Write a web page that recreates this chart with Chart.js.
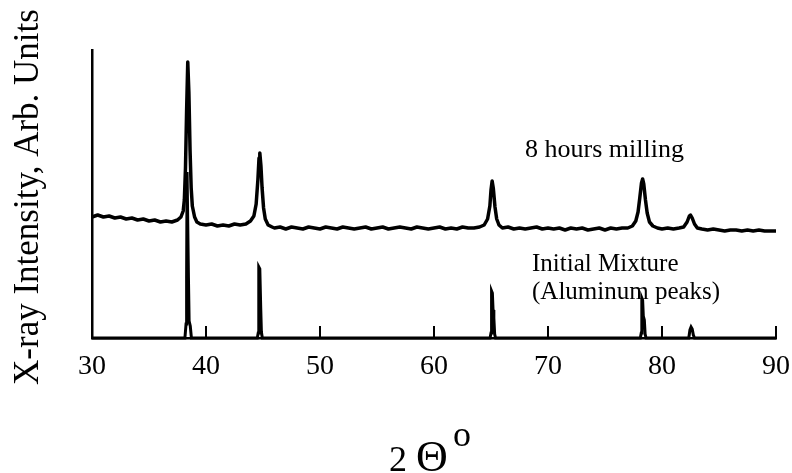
<!DOCTYPE html>
<html>
<head>
<meta charset="utf-8">
<script src="https://cdn.jsdelivr.net/npm/chart.js@4"></script>
<style>
  body { margin: 0; background: #fff; }
  #xrd { display: block; }
</style>
</head>
<body>
<canvas id="xrd" width="792" height="473"></canvas>
<script>
// x axis ticks (2 theta, degrees)
const xTicks = [30, 40, 50, 60, 70, 80, 90];

// 8 hours milling (arb. units)
const angleMilled = [
  30.0, 30.5, 31.0, 31.5, 32.0, 32.5, 33.0, 33.5, 34.0, 34.5, 35.0, 35.5, 36.0, 36.5, 37.0, 37.5, 37.8,
  38.0, 38.1, 38.2, 38.3, 38.4, 38.5, 38.6, 38.7, 38.8, 39.0, 39.2, 39.5,
  40.0, 40.5, 41.0, 41.5, 42.0, 42.5, 43.0, 43.5, 43.9,
  44.2, 44.4, 44.55, 44.65, 44.72, 44.82, 44.92, 45.05, 45.2, 45.45, 45.8,
  46.0, 46.5, 47.0, 47.5, 48.0, 48.5, 49.0, 49.5, 50.0, 50.5, 51.0, 51.5, 52.0, 52.5, 53.0, 53.5,
  54.0, 54.5, 55.0, 55.5, 56.0, 56.5, 57.0, 57.5, 58.0, 58.5, 59.0, 59.5, 60.0, 60.5, 61.0, 61.5,
  62.0, 62.5, 63.0, 63.5, 64.0, 64.4,
  64.7, 64.9, 65.0, 65.1, 65.2, 65.35, 65.5, 65.7, 66.0,
  66.5, 67.0, 67.5, 68.0, 68.5, 69.0, 69.5, 70.0, 70.5, 71.0, 71.5, 72.0, 72.5, 73.0, 73.5,
  74.0, 74.5, 75.0, 75.5, 76.0, 76.5, 77.0, 77.4,
  77.7, 77.9, 78.05, 78.2, 78.3, 78.4, 78.55, 78.7, 78.9, 79.2, 79.6,
  80.0, 80.5, 81.0, 81.5, 81.9, 82.2, 82.4, 82.5, 82.65, 82.85, 83.1, 83.5,
  84.0, 84.5, 85.0, 85.5, 86.0, 86.5, 87.0, 87.5, 88.0, 88.5, 89.0, 89.5, 90.0
];
const intensityMilled = [
  121, 123, 121, 122, 120, 121, 119, 120, 118, 119, 117, 118, 116, 117, 116, 118, 121,
  127, 138, 170, 228, 276, 245, 188, 150, 132, 121, 116, 114,
  113, 114, 112, 113, 112, 114, 113, 114, 117,
  122, 134, 158, 180, 185, 172, 150, 130, 119, 113, 111,
  110, 111, 109, 111, 110, 109, 111, 110, 109, 111, 110, 109, 111, 110, 109, 110,
  111, 109, 110, 111, 109, 110, 111, 110, 109, 111, 110, 109, 110, 111, 109, 110,
  109, 111, 110, 110, 111, 113,
  119, 132, 148, 157, 150, 131, 119, 113, 110,
  111, 109, 110, 109, 110, 111, 109, 110, 109, 110, 108, 110, 109, 110, 108,
  109, 110, 108, 110, 109, 110, 110, 112,
  117, 126, 140, 155, 159, 154, 138, 125, 116, 112, 110,
  109, 110, 109, 110, 111, 116, 122, 123, 120, 114, 110, 109,
  108, 109, 108, 107, 108, 108, 107, 108, 107, 108, 107, 107, 107
];

// initial mixture, aluminum lines
const anglePure = [
  30.0, 38.15, 38.25, 38.3, 38.34, 38.42, 38.46, 38.52, 38.62, 38.72,
  44.5, 44.58, 44.63, 44.72, 44.8, 44.86, 44.94,
  64.92, 65.0, 65.05, 65.12, 65.18, 65.25, 65.32, 65.4,
  78.1, 78.18, 78.23, 78.3, 78.36, 78.45, 78.52, 78.6,
  82.35, 82.45, 82.55, 82.65, 82.75, 82.85, 90.0
];
const intensityPure = [
  0, 0, 14, 60, 166, 166, 60, 17, 12, 0,
  0, 5, 71, 69, 30, 6, 0,
  0, 5, 47, 45, 28, 20, 4, 0,
  0, 5, 40, 38, 22, 18, 4, 0,
  0, 8, 11, 9, 3, 0, 0
];

const serif = "'Liberation Serif', 'DejaVu Serif', serif";

function toPoints(xs, ys) {
    return xs.map((x, i) => ({ x: x, y: ys[i] }));
}

// inward tick marks on the x axis and all the free text
const paperLook = {
    id: 'paperLook',
    afterDraw(chart) {
        const ctx = chart.ctx;
        const xs = chart.scales.x;
        const bottom = chart.chartArea.bottom;
        ctx.save();
        ctx.strokeStyle = '#000';
        ctx.lineWidth = 2;
        xTicks.slice(1).forEach(v => {
            const px = xs.getPixelForValue(v);
            ctx.beginPath();
            ctx.moveTo(px, bottom);
            ctx.lineTo(px, bottom - 12);
            ctx.stroke();
        });

        ctx.fillStyle = '#000';
        ctx.textBaseline = 'alphabetic';
        ctx.textAlign = 'left';
        ctx.font = '26px ' + serif;
        ctx.fillText('8 hours milling', 525, 157);
        ctx.font = '25px ' + serif;
        ctx.fillText('Initial Mixture', 532, 271);
        ctx.fillText('(Aluminum peaks)', 532, 299);

        // x axis title: 2 Θ with a raised o
        ctx.font = '36px ' + serif;
        ctx.fillText('2', 389, 471);
        ctx.font = '44px ' + serif;
        ctx.fillText('Θ', 416, 471);
        ctx.font = '36px ' + serif;
        ctx.fillText('o', 453, 446);

        // y axis title
        ctx.translate(38, 197);
        ctx.rotate(-Math.PI / 2);
        ctx.textAlign = 'center';
        ctx.font = '35px ' + serif;
        ctx.fillText('X-ray Intensity, Arb. Units', 0, 0);
        ctx.restore();
    }
};

new Chart(document.getElementById('xrd'), {
    type: 'line',
    data: {
        datasets: [
            {
                label: '8 hours milling',
                data: toPoints(angleMilled, intensityMilled),
                borderColor: '#000',
                borderWidth: 3.5,
                pointRadius: 0,
                tension: 0,
                borderJoinStyle: 'round',
                clip: false
            },
            {
                label: 'Initial Mixture (Aluminum peaks)',
                data: toPoints(anglePure, intensityPure),
                borderColor: '#000',
                borderWidth: 3,
                pointRadius: 0,
                tension: 0,
                clip: false
            }
        ]
    },
    options: {
        responsive: false,
        animation: false,
        devicePixelRatio: 1,
        layout: {
            padding: { left: 92, top: 50, right: 16, bottom: 0 }
        },
        plugins: {
            legend: { display: false },
            tooltip: { enabled: false }
        },
        scales: {
            x: {
                type: 'linear',
                min: 30,
                max: 90,
                afterFit: s => {
                    s.height = 135;
                    s.paddingLeft = 0;
                    s.paddingRight = 0;
                },
                afterBuildTicks: s => { s.ticks = xTicks.map(v => ({ value: v })); },
                grid: { display: false, drawTicks: false },
                border: { display: true, color: '#000', width: 2.5 },
                ticks: {
                    color: '#000',
                    font: { family: serif, size: 28 },
                    padding: 12,
                    maxRotation: 0
                }
            },
            y: {
                min: 0,
                max: 288,
                afterFit: s => { s.width = 0; },
                grid: { display: false, drawTicks: false },
                border: { display: true, color: '#000', width: 2.5 },
                ticks: { display: false }
            }
        }
    },
    plugins: [paperLook]
});
</script>
</body>
</html>
